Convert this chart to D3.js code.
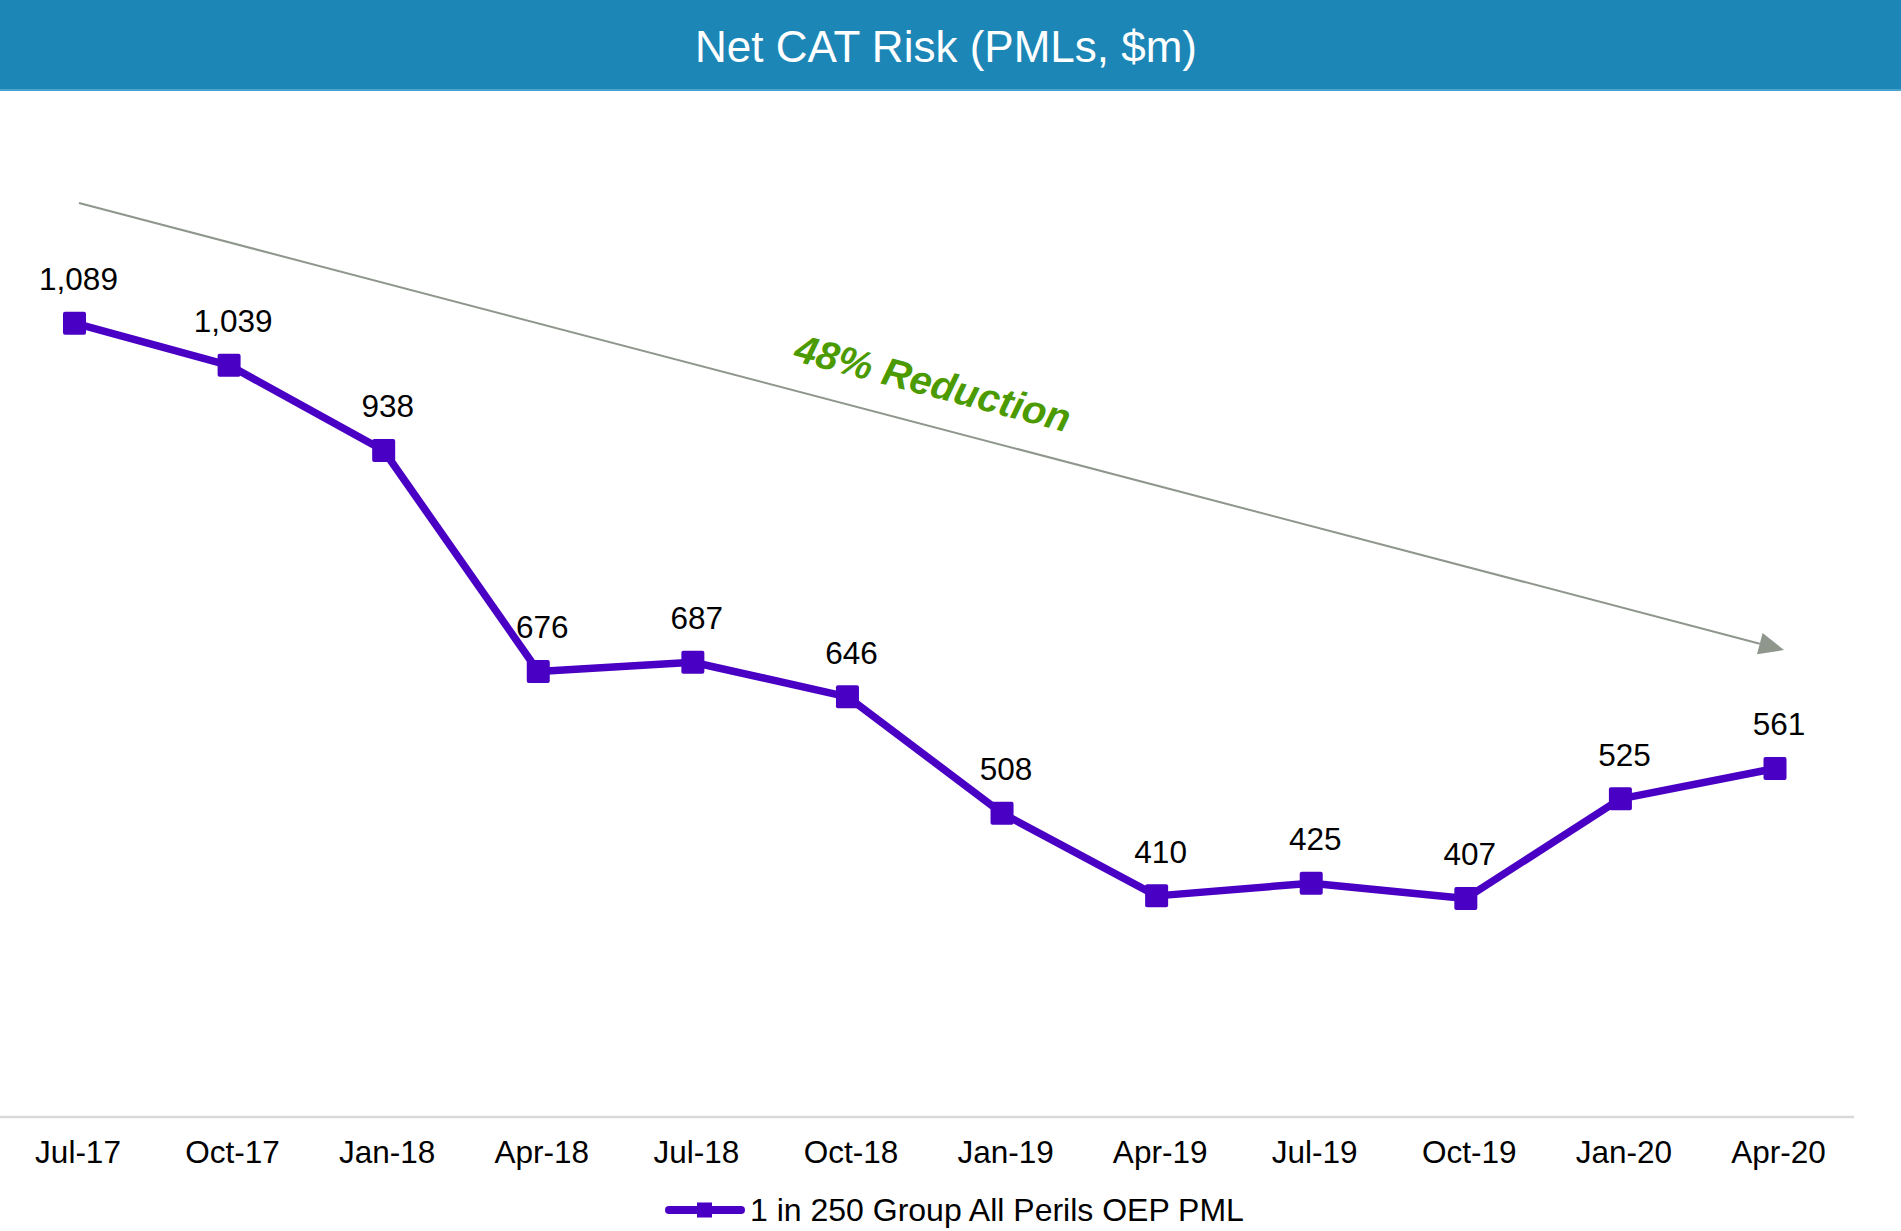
<!DOCTYPE html>
<html>
<head>
<meta charset="utf-8">
<script src="https://cdn.jsdelivr.net/npm/d3@7"></script>
<style>
  html, body { margin: 0; padding: 0; background: #fff; }
  svg { display: block; font-family: "Liberation Sans", Arial, sans-serif; }
</style>
</head>
<body>
<svg id="chart" width="1901" height="1231"></svg>
<script>
const categories = ["Jul-17","Oct-17","Jan-18","Apr-18","Jul-18","Oct-18","Jan-19","Apr-19","Jul-19","Oct-19","Jan-20","Apr-20"];
const values = [1089, 1039, 938, 676, 687, 646, 508, 410, 425, 407, 525, 561];
const seriesName = "1 in 250 Group All Perils OEP PML";
const titleText = "Net CAT Risk (PMLs, $m)";
const annotationText = "48% Reduction";

const svg = d3.select("#chart");
const W = 1901, H = 1231;
const lineColor = "#4a00c4";

// header band
svg.append("rect").attr("x", 0).attr("y", 0).attr("width", W).attr("height", 91).attr("fill", "#1c86b7");
svg.append("rect").attr("x", 0).attr("y", 89).attr("width", W).attr("height", 2).attr("fill", "#4aa3cf");
svg.append("text").attr("x", 946).attr("y", 62).attr("text-anchor", "middle")
  .attr("fill", "#fff").attr("font-size", 44).text(titleText);

const x = d3.scalePoint().domain(categories).range([74.5, 1775]);
const y = d3.scaleLinear().domain([200, 1200]).range([1073, 229.5]);

// axis
const axisY = 1117;
svg.append("line").attr("x1", 0).attr("x2", 1854).attr("y1", axisY).attr("y2", axisY)
  .attr("stroke", "#d9d9d9").attr("stroke-width", 2.5);
const ax = svg.append("g").attr("transform", `translate(3,${axisY})`)
  .call(d3.axisBottom(x).tickSize(0).tickPadding(24));
ax.select(".domain").remove();
ax.selectAll("text").attr("font-size", 31.5).attr("fill", "#000")
  .attr("font-family", "'Liberation Sans', Arial, sans-serif");

// trend arrow
const x1 = 79, y1 = 203, x2 = 1784, y2 = 650;
const ang = Math.atan2(y2 - y1, x2 - x1);
const headLen = 25, headW = 22;
const bx = x2 - headLen * Math.cos(ang), by = y2 - headLen * Math.sin(ang);
svg.append("line").attr("x1", x1).attr("y1", y1).attr("x2", bx).attr("y2", by)
  .attr("stroke", "#8f968c").attr("stroke-width", 2);
const px = -Math.sin(ang), py = Math.cos(ang);
svg.append("polygon").attr("points", [
  [x2, y2],
  [bx + px * headW / 2, by + py * headW / 2],
  [bx - px * headW / 2, by - py * headW / 2]
].map(p => p.join(",")).join(" ")).attr("fill", "#8f968c");

svg.append("text").attr("transform", `translate(933,383) rotate(${ang * 180 / Math.PI})`)
  .attr("text-anchor", "middle").attr("dy", "0.35em")
  .attr("font-size", 39.5).attr("font-weight", "bold").attr("font-style", "italic")
  .attr("fill", "#4a9a00").text(annotationText);

// series line
const data = categories.map((c, i) => ({ c, v: values[i] }));
svg.append("path").datum(data)
  .attr("d", d3.line().x(d => x(d.c)).y(d => y(d.v)))
  .attr("fill", "none").attr("stroke", lineColor).attr("stroke-width", 7.5).attr("stroke-linejoin", "round");
svg.selectAll("rect.mk").data(data).join("rect").attr("class", "mk")
  .attr("x", d => x(d.c) - 11.5).attr("y", d => y(d.v) - 11.5)
  .attr("width", 23).attr("height", 23).attr("rx", 2).attr("fill", lineColor);
svg.selectAll("text.lbl").data(data).join("text").attr("class", "lbl")
  .attr("x", d => x(d.c) + 4).attr("y", d => y(d.v) - 33)
  .attr("text-anchor", "middle").attr("font-size", 31.5).attr("fill", "#000")
  .text(d => d3.format(",")(d.v));

// legend
svg.append("line").attr("x1", 669).attr("x2", 741).attr("y1", 1210).attr("y2", 1210)
  .attr("stroke", lineColor).attr("stroke-width", 8).attr("stroke-linecap", "round");
svg.append("rect").attr("x", 697).attr("y", 1202.5).attr("width", 15).attr("height", 15).attr("fill", lineColor);
svg.append("text").attr("x", 750).attr("y", 1221).attr("font-size", 32).attr("fill", "#000").text(seriesName);
</script>
</body>
</html>
